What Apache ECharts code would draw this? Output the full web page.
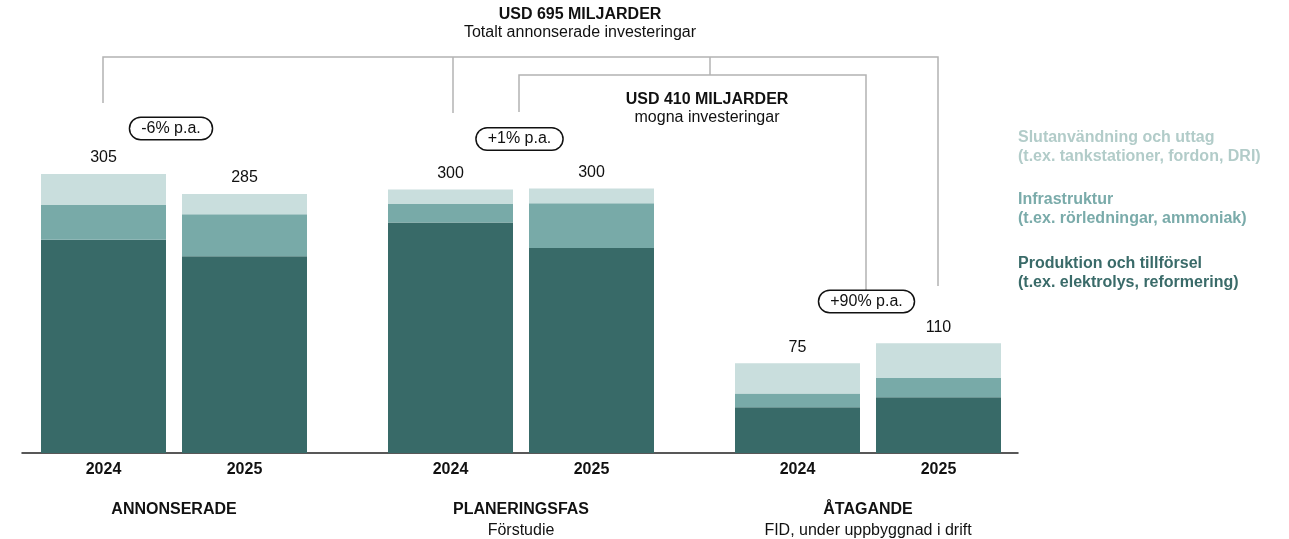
<!DOCTYPE html>
<html><head><meta charset="utf-8">
<script src="https://cdn.jsdelivr.net/npm/echarts@6/dist/echarts.min.js"></script>
<style>html,body{margin:0;padding:0;background:#fff}#c{width:1289px;height:539px}</style>
</head><body><div id="c"></div>
<script>
const years = ['2024', '2025'];
const groups = ['ANNONSERADE', 'PLANERINGSFAS', 'ÅTAGANDE'];
const groupSubs = ['', 'Förstudie', 'FID, under uppbyggnad i drift'];
const production = [233, 215, 252, 224, 50, 61];
const infrastructure = [38, 46, 20, 49, 15, 21];
const endUse = [34, 22, 16, 16, 33, 38];
const totals = [305, 285, 300, 300, 75, 110];
const growth = ['-6% p.a.', '+1% p.a.', '+90% p.a.'];
const seriesNames = ['Produktion och tillförsel', 'Infrastruktur', 'Slutanvändning och uttag'];
const seriesNotes = ['(t.ex. elektrolys, reformering)', '(t.ex. rörledningar, ammoniak)', '(t.ex. tankstationer, fordon, DRI)'];
const headerMain = ['USD 695 MILJARDER', 'Totalt annonserade investeringar'];
const headerMature = ['USD 410 MILJARDER', 'mogna investeringar'];

const FONT = "'Liberation Sans', Arial, Helvetica, sans-serif";
const colors = ['#386a68', '#78aaa8', '#c9dedd'];
const legendColors = ['#3a6b69', '#7aabaa', '#b2ccc9'];
const gridLefts = [33, 380, 727];
const layers = [production, infrastructure, endUse];

const grid = gridLefts.map(l => ({ left: l, width: 282, top: 87, bottom: 86, outerBoundsMode: 'none', containLabel: false }));
grid.push({ left: 22, width: 996, top: 87, bottom: 86, outerBoundsMode: 'none', containLabel: false });

const xAxis = groups.map((g, i) => ({
  type: 'category', gridIndex: i, data: years,
  axisLine: { show: false }, axisTick: { show: false },
  axisLabel: { fontFamily: FONT, fontSize: 16, fontWeight: 'bold', color: '#111', margin: 9 },
  name: groupSubs[i] ? '{b|' + g + '}\n{n|' + groupSubs[i] + '}' : '{b|' + g + '}',
  nameLocation: 'middle', nameGap: 46,
  nameTextStyle: {
    rich: {
      b: { fontFamily: FONT, fontSize: 16, fontWeight: 'bold', color: '#111', lineHeight: 21 },
      n: { fontFamily: FONT, fontSize: 16, color: '#111', lineHeight: 21 }
    }
  }
}));
xAxis.push({ type: 'value', gridIndex: 3, min: 0, max: 1, axisLine: { show: true, onZero: false, lineStyle: { color: '#222', width: 1.5 } }, axisTick: { show: false }, axisLabel: { show: false }, splitLine: { show: false } });

const yAxis = [0, 1, 2, 3].map(i => ({ type: 'value', gridIndex: i, min: 0, max: 400, show: false }));

const series = [];
groups.forEach((g, gi) => {
  layers.forEach((arr, li) => {
    const s = {
      type: 'bar', name: seriesNames[li], stack: 'g' + gi,
      xAxisIndex: gi, yAxisIndex: gi, barWidth: 125,
      data: arr.slice(gi * 2, gi * 2 + 2),
      itemStyle: { color: colors[li] },
      emphasis: { disabled: true }, z: 3
    };
    if (li === 2) {
      s.label = { show: true, position: 'top', distance: 8, fontFamily: FONT, fontSize: 16, color: '#111',
        formatter: p => String(totals[gi * 2 + p.dataIndex]) };
    }
    series.push(s);
  });
});

const lineStyle = { stroke: '#b3b3b3', lineWidth: 1.5, fill: null };
const graphic = [
  { type: 'polyline', shape: { points: [[103, 103], [103, 57], [938, 57], [938, 286]] }, style: lineStyle },
  { type: 'polyline', shape: { points: [[453, 57], [453, 113]] }, style: lineStyle },
  { type: 'polyline', shape: { points: [[710, 57], [710, 75]] }, style: lineStyle },
  { type: 'polyline', shape: { points: [[519, 112], [519, 75], [866, 75], [866, 298]] }, style: lineStyle },
  { type: 'text', x: 580, y: 15, style: { text: headerMain[0], fontFamily: FONT, fontSize: 16, fontWeight: 'bold', fill: '#111', align: 'center', verticalAlign: 'middle' } },
  { type: 'text', x: 580, y: 33, style: { text: headerMain[1], fontFamily: FONT, fontSize: 16, fill: '#111', align: 'center', verticalAlign: 'middle' } },
  { type: 'text', x: 707, y: 100, style: { text: headerMature[0], fontFamily: FONT, fontSize: 16, fontWeight: 'bold', fill: '#111', align: 'center', verticalAlign: 'middle' } },
  { type: 'text', x: 707, y: 118, style: { text: headerMature[1], fontFamily: FONT, fontSize: 16, fill: '#111', align: 'center', verticalAlign: 'middle' } }
];
const pillPos = [[171, 128.5], [519.5, 139], [866.5, 301.5]];
growth.forEach((t, i) => {
  graphic.push({ type: 'text', x: pillPos[i][0], y: pillPos[i][1], z: 10,
    style: { text: t, fontFamily: FONT, fontSize: 16, fill: '#111', align: 'center', verticalAlign: 'middle',
      backgroundColor: '#fff', borderColor: '#111', borderWidth: 1.5, borderRadius: 11, padding: [3, 11, 2, 11] } });
});
const legendTops = [254, 190, 128];
[2, 1, 0].forEach(li => {
  graphic.push({ type: 'text', x: 1018, y: legendTops[li],
    style: { text: seriesNames[li] + '\n' + seriesNotes[li], fontFamily: FONT, fontSize: 16, fontWeight: 'bold',
      fill: legendColors[li], lineHeight: 19, align: 'left', verticalAlign: 'top' } });
});

const chart = echarts.init(document.getElementById('c'), null, { renderer: 'canvas' });
chart.setOption({ animation: false, backgroundColor: '#fff', grid, xAxis, yAxis, series, graphic });
</script></body></html>
